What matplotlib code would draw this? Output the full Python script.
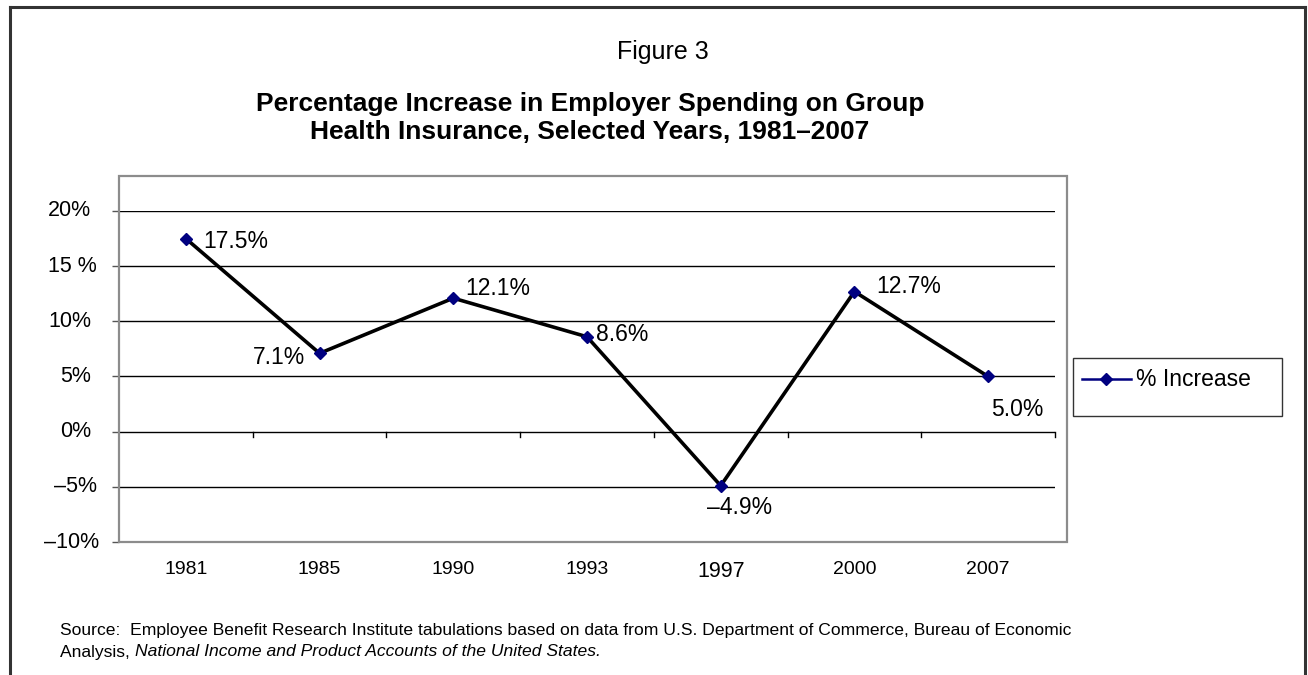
import matplotlib.pyplot as plt
from matplotlib.patches import Rectangle
from matplotlib.lines import Line2D
from matplotlib.transforms import blended_transform_factory, offset_copy

plt.rcParams['font.family'] = ['Liberation Sans', 'DejaVu Sans']

years = ['1981', '1985', '1990', '1993', '1997', '2000', '2007']
pct_increase = [17.5, 7.1, 12.1, 8.6, -4.9, 12.7, 5.0]
value_labels = ['17.5%', '7.1%', '12.1%', '8.6%', '\u20134.9%', '12.7%', '5.0%']
ytick_vals = [-10, -5, 0, 5, 10, 15, 20]
ytick_labels = ['\u201310%', '\u20135%', '0%', '5%', '10%', '15 %', '20%']

W, H = 1308, 675
fig = plt.figure(figsize=(W / 100, H / 100), dpi=100)

def fx(px):
    return px / W

def fy(py):
    return 1 - py / H

# outer frame, open at the bottom
fig.add_artist(Line2D([fx(10), fx(10)], [0, fy(7)], color='#333333', lw=2.2))
fig.add_artist(Line2D([fx(10), fx(1305)], [fy(7), fy(7)], color='#333333', lw=2.2))
fig.add_artist(Line2D([fx(1305), fx(1305)], [0, fy(7)], color='#333333', lw=2.2))

# gray plot area border
fig.add_artist(Rectangle((fx(119), fy(542)), fx(1067) - fx(119), fy(176) - fy(542),
                         fill=False, edgecolor='#8c8c8c', lw=1.6))

ax = fig.add_axes([fx(119), fy(542), fx(1055) - fx(119), fy(211) - fy(542)])
ax.set_xlim(-0.5, len(years) - 0.5)
ax.set_ylim(-10, 20)
for s in ax.spines.values():
    s.set_visible(False)

for v in ytick_vals:
    if v != -10:
        ax.axhline(v, color='black', lw=1.0, zorder=1)
# category boundary ticks on the zero line
for b in range(1, len(years) + 1):
    ax.plot([b - 0.5, b - 0.5], [0, -0.45], color='black', lw=1.0, zorder=1, clip_on=False)

ax.set_yticks(ytick_vals)
ax.set_yticklabels([])
ax.tick_params(axis='y', length=5, width=1, color='#555555')
# y labels placed by hand (Excel leaves uneven right edges)
ytr = blended_transform_factory(ax.transAxes, ax.transData)
label_right = {'\u201310%': 99, '\u20135%': 97, '15 %': 97}
for v, lab in zip(ytick_vals, ytick_labels):
    right = label_right.get(lab, 91)
    tr = offset_copy(ytr, fig=fig, x=right - 119, y=0, units='dots')
    ax.text(0, v, lab, transform=tr, ha='right', va='center', fontsize=15.5)

ax.set_xticks(range(len(years)))
ax.set_xticklabels(years, fontsize=14)
ax.tick_params(axis='x', length=0, pad=14)
ax.get_xticklabels()[4].set_fontsize(15.5)

x = list(range(len(years)))
ax.plot(x, pct_increase, color='black', lw=2.6, zorder=3)
ax.plot(x, pct_increase, linestyle='none', marker='D', ms=6.5, mfc='#000080',
        mec='#000080', zorder=4)

offsets = [(17, -3, 'left'), (-14, -4, 'right'), (12, 10, 'left'), (9, 2, 'left'),
           (-14, -22, 'left'), (22, 5, 'left'), (3, -33, 'left')]
for i, (dx, dy, ha) in enumerate(offsets):
    ax.annotate(value_labels[i], (x[i], pct_increase[i]), xytext=(dx, dy),
                textcoords='offset pixels', ha=ha, va='center', fontsize=16.5)

# legend box
fig.add_artist(Rectangle((fx(1073), fy(416)), fx(1282) - fx(1073), fy(358) - fy(416),
                         fill=False, edgecolor='#333333', lw=1.0))
fig.add_artist(Line2D([fx(1082), fx(1131)], [fy(379), fy(379)], color='#000080', lw=1.8))
fig.add_artist(Line2D([fx(1106)], [fy(379)], marker='D', ms=6, mfc='#000080',
                      mec='#000080', linestyle='none'))
fig.text(fx(1136), fy(379), '% Increase', fontsize=16.5, ha='left', va='center')

fig.text(fx(663), fy(52), 'Figure 3', fontsize=18, ha='center', va='center')
fig.text(fx(590), fy(118), 'Percentage Increase in Employer Spending on Group\n'
         'Health Insurance, Selected Years, 1981\u20132007',
         fontsize=19, fontweight='bold', ha='center', va='center', linespacing=1.25)

fig.text(fx(60), fy(631), 'Source:  Employee Benefit Research Institute tabulations based on '
         'data from U.S. Department of Commerce, Bureau of Economic',
         fontsize=12.6, ha='left', va='center')
part = fig.text(fx(60), fy(652), 'Analysis, ', fontsize=12.6, ha='left', va='center')
fig.canvas.draw()
bb = part.get_window_extent()
fig.text(bb.x1 / W, fy(652), 'National Income and Product Accounts of the United States.',
         fontsize=12.6, ha='left', va='center', style='italic')

fig.savefig('out.png', dpi=100)
